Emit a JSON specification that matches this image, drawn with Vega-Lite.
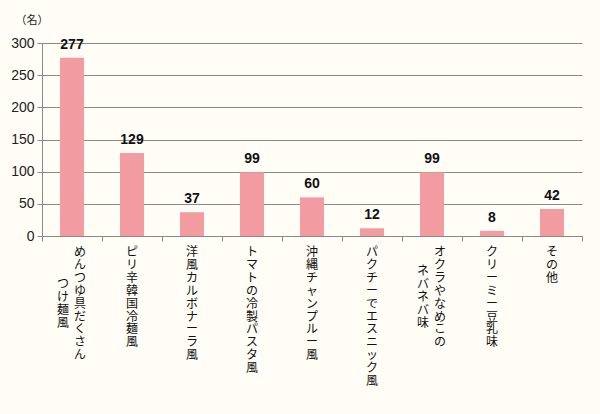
{
  "$schema": "https://vega.github.io/schema/vega-lite/v6.json",
  "width": 540,
  "height": 193,
  "autosize": {"type": "none"},
  "padding": {"left": 42, "top": 43, "right": 18, "bottom": 178},
  "background": "#FFFDF6",
  "config": {
    "view": {"stroke": null},
    "axisY": {
      "labelOverlap": false,
      "titleAngle": 0, "titleAlign": "left", "titleBaseline": "middle",
      "titleX": -27, "titleY": -23, "titleFont": "Noto Sans CJK JP", "titleFontSize": 11,
      "titleFontWeight": "normal", "titleColor": "#222",
      "labelFont": "Liberation Sans", "labelFontSize": 14, "labelColor": "#222", "labelPadding": 3,
      "domainColor": "#8a8a8a", "tickColor": "#8a8a8a", "tickSize": 5,
      "gridColor": "#8a8a8a", "gridWidth": 1
    }
  },
  "data": {"values": [
    {"cat": "めんつゆ具だくさんつけ麺風", "l1": "めんつゆ具だくさん", "l2": "つけ麺風", "n": 277},
    {"cat": "ピリ辛韓国冷麺風", "l1": "ピリ辛韓国冷麺風", "l2": "", "n": 129},
    {"cat": "洋風カルボナーラ風", "l1": "洋風カルボナーラ風", "l2": "", "n": 37},
    {"cat": "トマトの冷製パスタ風", "l1": "トマトの冷製パスタ風", "l2": "", "n": 99},
    {"cat": "沖縄チャンプルー風", "l1": "沖縄チャンプルー風", "l2": "", "n": 60},
    {"cat": "パクチーでエスニック風", "l1": "パクチーでエスニック風", "l2": "", "n": 12},
    {"cat": "オクラやなめこのネバネバ味", "l1": "オクラやなめこの", "l2": "ネバネバ味", "n": 99},
    {"cat": "クリーミー豆乳味", "l1": "クリーミー豆乳味", "l2": "", "n": 8},
    {"cat": "その他", "l1": "その他", "l2": "", "n": 42}
  ]},
  "encoding": {
    "x": {
      "field": "cat", "type": "nominal", "sort": null,
      "scale": {"paddingInner": 0, "paddingOuter": 0},
      "axis": {
        "title": null, "labels": false, "domain": false,
        "ticks": true, "tickBand": "extent", "tickSize": 5,
        "tickColor": "#8a8a8a", "grid": false
      }
    }
  },
  "layer": [
    {
      "mark": {"type": "bar", "width": {"band": 0.4}, "color": "#F29CA2"},
      "encoding": {
        "y": {
          "field": "n", "type": "quantitative",
          "scale": {"domain": [0, 300], "nice": false},
          "axis": {"values": [0, 50, 100, 150, 200, 250, 300], "title": "（名）"}
        }
      }
    },
    {
      "mark": {"type": "text", "font": "Liberation Sans", "fontWeight": "bold", "fontSize": 14, "baseline": "bottom", "dy": -6, "color": "#111"},
      "encoding": {
        "y": {"field": "n", "type": "quantitative", "axis": {"values": [0, 50, 100, 150, 200, 250, 300], "title": "（名）"}},
        "text": {"field": "n", "type": "quantitative"}
      }
    },
    {
      "mark": {
        "type": "text", "font": "Noto Sans CJK JP", "fontSize": 12, "baseline": "top", "align": "center",
        "lineHeight": 12.9, "color": "#111",
        "text": {"expr": "split(datum.l1, '')"},
        "dx": {"expr": "length(datum.l2) > 0 ? 8 : 0"},
        "dy": 11
      },
      "encoding": {"y": {"datum": 0, "type": "quantitative", "axis": {"values": [0, 50, 100, 150, 200, 250, 300], "title": "（名）"}}}
    },
    {
      "mark": {
        "type": "text", "font": "Noto Sans CJK JP", "fontSize": 12, "baseline": "top", "align": "center",
        "lineHeight": 12.9, "color": "#111",
        "text": {"expr": "split(datum.l2, '')"},
        "dx": -9,
        "dy": {"expr": "11 + (length(datum.l1) - length(datum.l2)) * 6.45"}
      },
      "encoding": {"y": {"datum": 0, "type": "quantitative", "axis": {"values": [0, 50, 100, 150, 200, 250, 300], "title": "（名）"}}}
    }
  ]
}
